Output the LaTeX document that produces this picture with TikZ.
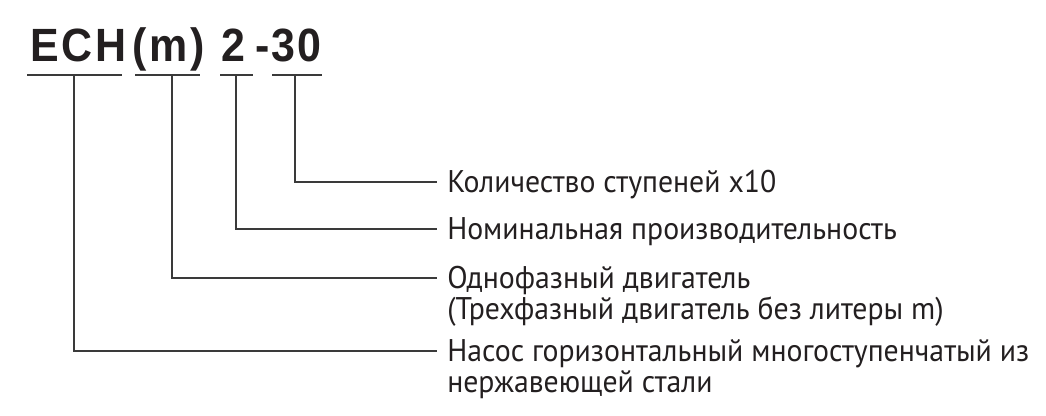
\documentclass[tikz,border=0pt]{standalone}
\usepackage{fontspec}
\setmainfont[FakeStretch=0.95]{PT Sans}
\newfontfamily\titlefont[FakeStretch=0.92,LetterSpace=6]{Liberation Sans}
\usetikzlibrary{positioning}
\definecolor{ink}{HTML}{231F20}
\definecolor{rule}{HTML}{3A3A3A}
\begin{document}
\begin{tikzpicture}[x=0.75pt,y=-0.75pt,
  code/.style={font=\titlefont\bfseries\fontsize{35}{40}\selectfont,text=ink,inner sep=0,anchor=base west},
  lbl/.style={font=\fontsize{23.5}{27}\selectfont,text=ink,inner sep=0,anchor=west,text height=16.5pt,text depth=0pt},
  bar/.style={line width=1.5pt,draw=rule},
  lead/.style={line width=1.3pt,draw=rule,shorten >=7.5pt}]
\useasboundingbox (0,0) rectangle (1046,416);

\node[code] (ech) at (30,62) {ECH};
\node[code] (mot) at (132,62) {(m)};
\node[code] (cap) at (221,62) {2};
\node[code] (dash) at (255,62) {-};
\node[code] (stg) at (271,62) {30};

\draw[bar] (27,75) -- (122,75);
\draw[bar] (135,75) -- (200,75);
\draw[bar] (220,75) -- (253,75);
\draw[bar] (272,75) -- (322,75);

\coordinate (u1) at (74,75);
\coordinate (u2) at (172,75);
\coordinate (u3) at (236,75);
\coordinate (u4) at (295,75);

\node[lbl] (kol) at (447,182) {Количество ступеней x10};
\node[lbl] (nom) at (447,229) {Номинальная производительность};
\node[lbl] (odn) at (447,278) {Однофазный двигатель};
\node[lbl, below=6pt of odn.south west, anchor=north west] (trh) {(Трехфазный двигатель без литеры m)};
\node[lbl] (nas) at (447,351) {Насос горизонтальный многоступенчатый из};
\node[lbl, below=6pt of nas.south west, anchor=north west] (nrz) {нержавеющей стали};

\draw[lead] (u4) |- (kol.west);
\draw[lead] (u3) |- (nom.west);
\draw[lead] (u2) |- (odn.west);
\draw[lead] (u1) |- (nas.west);
\end{tikzpicture}
\end{document}
